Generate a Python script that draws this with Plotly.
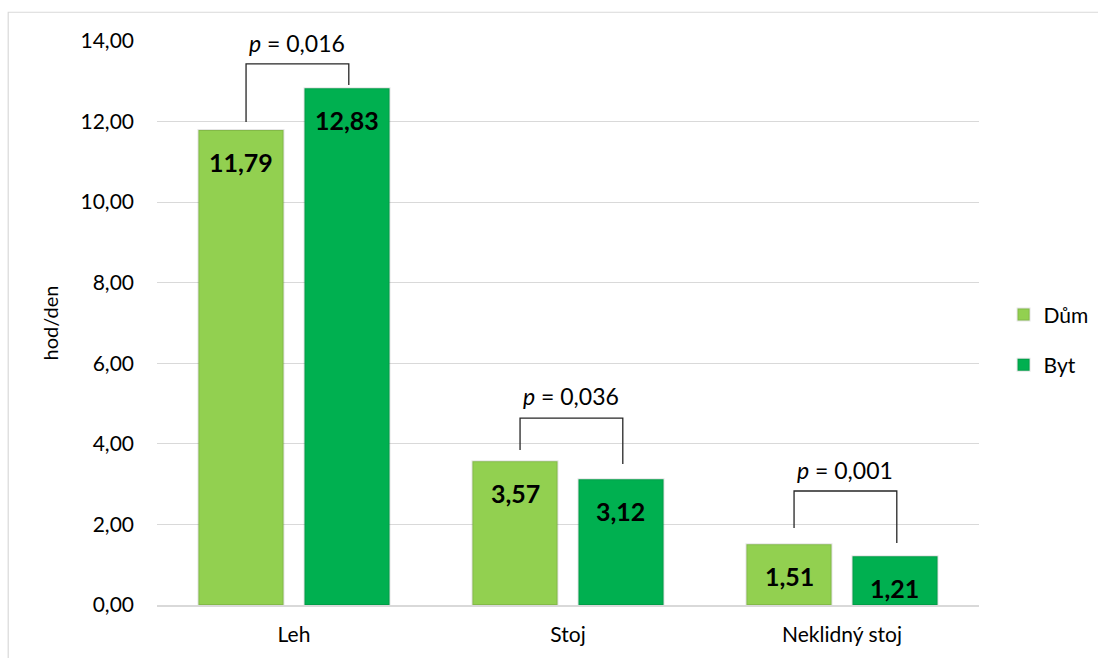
import plotly.graph_objects as go

# Data
categories = ["Leh", "Stoj", "Neklidný stoj"]
dum = [11.79, 3.57, 1.51]
byt = [12.83, 3.12, 1.21]
p_labels = ["0,016", "0,036", "0,001"]

# Significance bracket geometry (left foot, top, right foot) in hod/den
bracket_left = [11.99, 3.85, 1.91]
bracket_top = [13.43, 4.64, 2.83]
bracket_right = [12.91, 3.50, 1.54]
label_y = [13.95, 5.19, 3.35]

C_DUM = "#92d050"
C_BYT = "#00b050"
FONT = "Lato, 'Open Sans', sans-serif"
SHADOW = dict(color="rgba(0,0,0,0.10)", width=2)

fig = go.Figure()
fig.add_trace(go.Bar(x=categories, y=dum, name="Dům", marker_color=C_DUM,
                     legendgroup="a", marker_line=SHADOW))
fig.add_trace(go.Bar(x=categories, y=byt, name="Byt", marker_color=C_BYT,
                     legendgroup="b", marker_line=SHADOW))

annotations = []
shapes = []
# value labels inside bars, near the top
for i, cat in enumerate(categories):
    for val, off in ((dum[i], -0.193), (byt[i], 0.193)):
        annotations.append(dict(
            x=i + off, y=val, xref="x", yref="y",
            text="<b>" + f"{val:.2f}".replace(".", ",") + "</b>",
            showarrow=False, yshift=-32,
            font=dict(family=FONT, size=25, color="black")))
    # bracket
    xl, xr = i - 0.175, i + 0.2
    shapes.append(dict(
        type="path", xref="x", yref="y",
        path=f"M {xl},{bracket_left[i]} L {xl},{bracket_top[i]} L {xr},{bracket_top[i]} L {xr},{bracket_right[i]}",
        line=dict(color="#262626", width=1.3)))
    annotations.append(dict(
        x=i + 0.012, y=label_y[i], xref="x", yref="y",
        text=f"<i>p</i> = {p_labels[i]}", showarrow=False,
        bgcolor="white", borderpad=3,
        font=dict(family=FONT, size=23, color="black")))

# outer chart frame
shapes.append(dict(type="rect", xref="paper", yref="paper",
                   x0=-0.181, x1=1.2, y0=-0.2, y1=1.051,
                   line=dict(color="#d9d9d9", width=1.2), layer="below"))

fig.update_layout(
    width=1098, height=658,
    margin=dict(l=157, r=119, t=41, b=53, autoexpand=False),
    paper_bgcolor="white", plot_bgcolor="white",
    separators=", ",
    barmode="group", bargap=0.226, bargroupgap=0.198,
    font=dict(family=FONT, size=21, color="black"),
    xaxis=dict(showgrid=False, showline=True, linecolor="#d9d9d9", linewidth=1.5,
               ticks="", ticklabelstandoff=10, tickfont=dict(size=21)),
    yaxis=dict(range=[0, 14], dtick=2, tickformat=".2f",
               showgrid=True, gridcolor="#d9d9d9", gridwidth=1.3,
               zeroline=False, showline=False, ticks="",
               ticklabelstandoff=22, tickfont=dict(size=21),
               title=dict(text="hod/den", font=dict(size=20), standoff=16)),
    legend=dict(xref="container", x=0.914, y=0.47, xanchor="left", yanchor="middle",
                traceorder="grouped", tracegroupgap=20,
                font=dict(size=21), itemwidth=30),
    annotations=annotations,
    shapes=shapes,
)

fig.write_html("out.html")
